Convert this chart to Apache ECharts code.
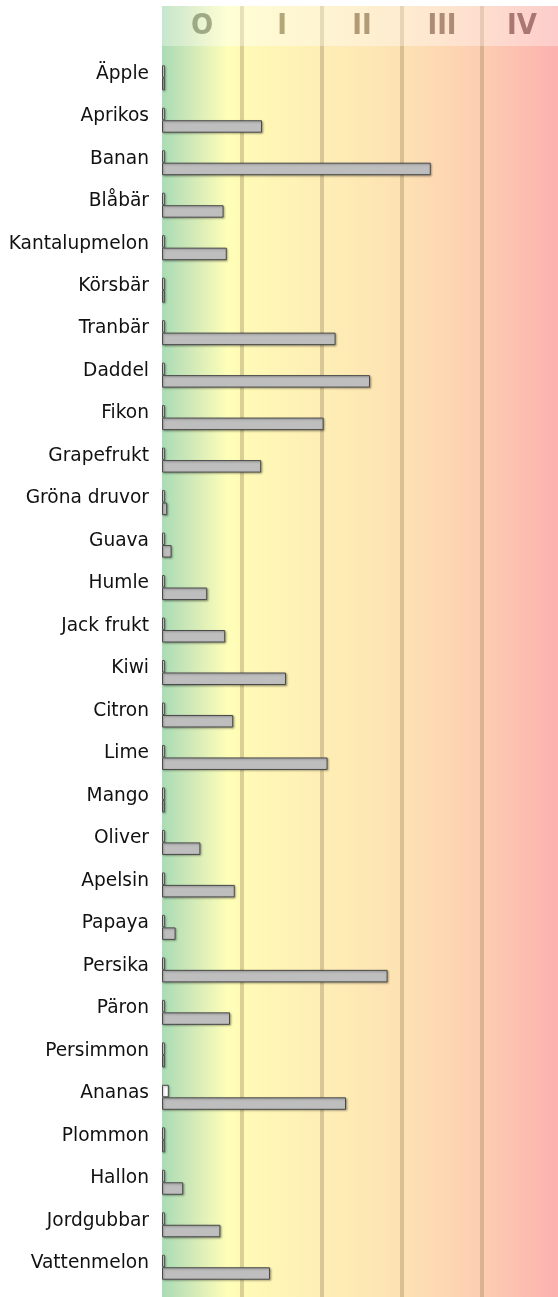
<!DOCTYPE html>
<html>
<head>
<meta charset="utf-8">
<script src="https://cdn.jsdelivr.net/npm/echarts@6/dist/echarts.min.js"></script>
<style>
html,body{margin:0;padding:0;background:#fff;overflow:hidden;}
#c{width:558px;height:1297px;}
</style>
</head>
<body>
<div id="c"></div>
<script>
// ---- data ----
const categories = ['Äpple','Aprikos','Banan','Blåbär','Kantalupmelon','Körsbär','Tranbär','Daddel','Fikon','Grapefrukt','Gröna druvor','Guava','Humle','Jack frukt','Kiwi','Citron','Lime','Mango','Oliver','Apelsin','Papaya','Persika','Päron','Persimmon','Ananas','Plommon','Hallon','Jordgubbar','Vattenmelon'];
const whiteValues = [0.035,0.035,0.035,0.035,0.035,0.035,0.035,0.035,0.035,0.035,0.035,0.035,0.035,0.035,0.035,0.035,0.035,0.035,0.035,0.035,0.035,0.035,0.035,0.035,0.085,0.035,0.035,0.035,0.035];
const greyValues = [0.035,1.25,3.36,0.77,0.81,0.035,2.17,2.60,2.02,1.24,0.065,0.12,0.565,0.79,1.55,0.89,2.07,0.035,0.48,0.91,0.17,2.82,0.85,0.035,2.30,0.035,0.265,0.73,1.35];
const classLabels = ['O','I','II','III','IV'];
const classTextColors = ['#8c9672','#9e9262','#9e865f','#9a745d','#955f5b'];

const chart = echarts.init(document.getElementById('c'), null, {renderer:'canvas'});

function grad(stops){
  return new echarts.graphic.LinearGradient(0,0,1,0, stops.map(s=>({offset:s[0], color:s[1]})));
}
const bgStops = [[0,'#a9dcb5'],[0.07,'#cfe8b8'],[0.165,'#ffffb8'],[0.2,'#fffab6'],[0.4,'#feeeb5'],[0.6,'#fde2b3'],[0.8,'#fdcdb1'],[1,'#fcb0af']];
const hdrStops = [[0,'#c6e7cd'],[0.07,'#dfefcf'],[0.165,'#ffffd4'],[0.2,'#fffcd3'],[0.4,'#fef4d2'],[0.6,'#feecd0'],[0.8,'#fedecf'],[1,'#fdcbca']];

const fontFamily = '"DejaVu Sans", sans-serif';
const plotWidth = 400;

chart.setOption({
  animation:false,
  backgroundColor:'#ffffff',
  grid:[
    {left:162, width:plotWidth, top:46, bottom:0, show:true, borderWidth:0, backgroundColor:grad(bgStops), outerBoundsMode:'none', containLabel:false},
    {left:162, width:plotWidth, top:6, height:40, show:true, borderWidth:0, backgroundColor:grad(hdrStops), outerBoundsMode:'none', containLabel:false},
    {left:162, width:plotWidth, top:56.5, height:1232, outerBoundsMode:'none', containLabel:false}
  ],
  xAxis:[
    {gridIndex:0, type:'value', min:0, max:5, interval:1,
      axisLine:{show:false}, axisTick:{show:false}, axisLabel:{show:false},
      splitLine:{show:true, showMinLine:false, showMaxLine:false, lineStyle:{color:'rgba(150,128,88,0.35)', width:4}}},
    {gridIndex:1, type:'category', data:classLabels,
      axisLine:{show:false}, axisTick:{show:false}, axisLabel:{show:false},
      splitLine:{show:false}},
    {gridIndex:1, type:'value', min:0, max:5, interval:1,
      axisLine:{show:false}, axisTick:{show:false}, axisLabel:{show:false},
      splitLine:{show:true, showMinLine:false, showMaxLine:false, lineStyle:{color:'rgba(150,128,88,0.22)', width:4}}},
    {gridIndex:2, type:'value', min:0, max:5, interval:1, show:false}
  ],
  yAxis:[
    {gridIndex:0, type:'value', show:false},
    {gridIndex:1, type:'category', data:['h'], show:false},
    {gridIndex:2, type:'category', data:categories, inverse:true,
      axisLine:{show:false}, axisTick:{show:false}, splitLine:{show:false},
      axisLabel:{fontFamily:fontFamily, fontSize:18.6, color:'#111111', margin:13,
        verticalAlign:'bottom', lineHeight:8}}
  ],
  series:[
    {type:'scatter', xAxisIndex:1, yAxisIndex:1, symbolSize:0,
      data: classLabels.map((c,i)=>({value:[c,'h'], label:{color:classTextColors[i]}})),
      label:{show:true, position:'inside', formatter:p=>p.value[0],
        fontFamily:'"DejaVu Sans Condensed", "DejaVu Sans", sans-serif', fontWeight:'bold', fontSize:29}},
    {name:'A', type:'bar', xAxisIndex:3, yAxisIndex:2, data:whiteValues,
      barWidth:12.5, barGap:'0%',
      itemStyle:{color:'#ffffff', borderColor:'#4a4a4a', borderWidth:1,
        shadowColor:'rgba(0,0,0,0.3)', shadowBlur:2, shadowOffsetX:1, shadowOffsetY:1}},
    {name:'B', type:'bar', xAxisIndex:3, yAxisIndex:2, data:greyValues,
      barWidth:12.5, barGap:'0%',
      itemStyle:{color:'#bebebe', borderColor:'#4a4a4a', borderWidth:1,
        shadowColor:'rgba(0,0,0,0.3)', shadowBlur:2, shadowOffsetX:1, shadowOffsetY:1}}
  ]
});
</script>
</body>
</html>
